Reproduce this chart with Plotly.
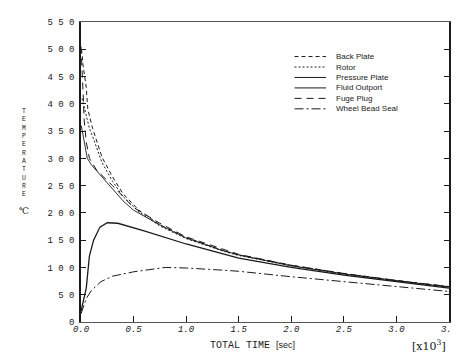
import plotly.graph_objects as go

# ---- data (time in 10^3 sec, temperature in deg C) ----
t_back = [0.005, 0.02, 0.05, 0.065, 0.11, 0.2, 0.3, 0.4, 0.55, 0.75, 1.0, 1.35, 1.5, 2.0, 2.5, 3.0, 3.5]
v_back = [500, 470, 430, 390, 355, 302, 266, 235, 205, 178, 155, 131, 123, 104, 89, 76, 65]

t_rotor = [0.01, 0.04, 0.08, 0.12, 0.2, 0.3, 0.4, 0.55, 0.75, 1.0, 1.35, 1.5, 2.0, 2.5, 3.0, 3.5]
v_rotor = [410, 385, 355, 335, 292, 258, 230, 202, 176, 153, 130, 122, 103, 88, 75, 64]

t_press = [0.003, 0.03, 0.06, 0.1, 0.2, 0.3, 0.4, 0.5, 0.75, 1.0, 1.35, 1.5, 2.0, 2.5, 3.0, 3.5]
v_press = [360, 330, 300, 288, 266, 242, 222, 205, 178, 154, 131, 123, 103, 88, 76, 64]

t_fluid = [0.0, 0.02, 0.05, 0.08, 0.12, 0.18, 0.25, 0.35, 0.6, 1.0, 1.35, 1.5, 2.0, 2.5, 3.0, 3.5]
v_fluid = [20, 35, 62, 121, 150, 174, 182, 181, 167, 143, 124, 117, 100, 86, 74, 62]

t_fuge = [0.0, 0.01, 0.02, 0.03, 0.05, 0.08, 0.15, 0.3, 0.5, 0.75, 1.0, 1.5, 2.0, 2.5, 3.0, 3.5]
v_fuge = [505, 470, 420, 370, 330, 300, 278, 250, 210, 181, 156, 124, 104, 89, 76, 65]

t_seal = [0.0, 0.02, 0.05, 0.1, 0.19, 0.3, 0.5, 0.8, 1.0, 1.35, 1.5, 2.0, 2.5, 3.0, 3.5]
v_seal = [15, 25, 43, 58, 74, 84, 92, 100, 99, 95, 93, 83, 74, 65, 56]

names = ["Back Plate", "Rotor", "Pressure Plate", "Fluid Outport", "Fuge Plug", "Wheel Bead Seal"]
series_t = [t_back, t_rotor, t_press, t_fluid, t_fuge, t_seal]
series_v = [v_back, v_rotor, v_press, v_fluid, v_fuge, v_seal]
dashes = ["4px,3px", "2px,2px", "solid", "solid", "7px,5px", "9px,3px,2px,3px"]
widths = [1.0, 1.0, 0.9, 1.3, 1.0, 1.0]

y_ticks = [0, 50, 100, 150, 200, 250, 300, 350, 400, 450, 500, 550]
x_ticks = [0.0, 0.5, 1.0, 1.5, 2.0, 2.5, 3.0, 3.5]

ink = "#1a1a1a"
fig = go.Figure()
for n, tt, vv, d, w in zip(names, series_t, series_v, dashes, widths):
    fig.add_trace(go.Scatter(x=tt, y=vv, mode="lines", name=n,
                             line=dict(color=ink, width=w, dash=d), showlegend=False))

# manual compact legend
L, R, T, B = 73, 447, 10, 314
def px(x):
    return (x - L) / (R - L)
def py(y):
    return (B - y) / (B - T)

leg_x0, leg_x1, leg_tx = 290, 322, 330
leg_y0, leg_dy = 45, 10.6
shapes = []
annotations = []
for i, (n, d) in enumerate(zip(names, dashes)):
    y = leg_y0 + i * leg_dy
    shapes.append(dict(type="line", xref="paper", yref="paper",
                       x0=px(leg_x0), x1=px(leg_x1), y0=py(y), y1=py(y),
                       line=dict(color=ink, width=1, dash=d)))
    annotations.append(dict(text=n, xref="paper", yref="paper",
                            x=px(leg_tx), y=py(y),
                            xanchor="left", yanchor="middle", showarrow=False,
                            font=dict(family="Liberation Sans", size=8, color=ink)))

annotations += [
    dict(text="<br>".join("TEMPERATURE"), xref="paper", yref="paper", x=px(15), y=py(143),
         showarrow=False, xanchor="center", yanchor="middle",
         font=dict(family="Liberation Mono", size=6.4, color=ink)),
    dict(text="℃", xref="paper", yref="paper", x=px(15), y=py(202),
         showarrow=False, xanchor="center", yanchor="middle",
         font=dict(family="DejaVu Serif", size=9, color=ink)),
    dict(text="TOTAL TIME <span style='font-family:Liberation Sans;font-size:9px'>[sec]</span>",
         xref="paper", yref="paper", x=px(247), y=py(338),
         showarrow=False, xanchor="center", yanchor="middle",
         font=dict(family="Liberation Mono", size=10, color=ink)),
    dict(text="[x10<sup>3</sup>]", xref="paper", yref="paper", x=px(427),
         y=py(338), showarrow=False, xanchor="center", yanchor="middle",
         font=dict(family="DejaVu Serif", size=11, color=ink)),
]

fig.update_layout(
    width=460, height=354, margin=dict(l=L, r=460 - R, t=T, b=354 - B),
    paper_bgcolor="white", plot_bgcolor="white",
    shapes=shapes, annotations=annotations,
    xaxis=dict(range=[0, 3.5], tickvals=x_ticks, ticktext=[f"{v:.1f}" for v in x_ticks],
               ticks="inside", ticklen=6, tickcolor=ink, showline=True, linecolor="#555",
               linewidth=1, mirror=True, showgrid=False, zeroline=False,
               ticklabelstandoff=-2,
               tickfont=dict(family="Liberation Mono", size=9, color=ink, style="italic")),
    yaxis=dict(range=[0, 550], tickvals=y_ticks, ticktext=[" ".join(str(v)) for v in y_ticks],
               ticks="inside", ticklen=5, tickcolor=ink, showline=True, linecolor=ink,
               linewidth=1.5, mirror="allticks", showgrid=False, zeroline=False,
               ticklabelstandoff=3,
               tickfont=dict(family="Liberation Mono", size=9, color=ink)),
)

fig.write_html("out.html")
